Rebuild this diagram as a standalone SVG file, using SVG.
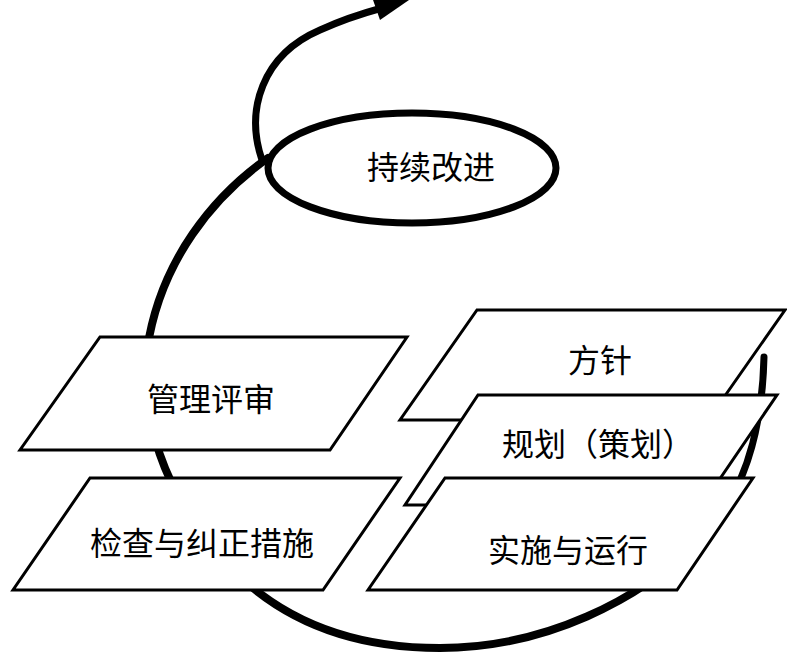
<svg xmlns="http://www.w3.org/2000/svg" width="787" height="652" viewBox="0 0 787 652">
<style>
.para{fill:#fff;stroke:#000;stroke-width:3;stroke-linejoin:miter}
.lbl{font-family:"Noto Sans CJK SC","Noto Sans",sans-serif;font-size:32px;fill:#000;text-anchor:middle;dominant-baseline:central}
.thick{fill:none;stroke:#000;stroke-linecap:round}
</style>
<rect width="787" height="652" fill="#fff"/>
<g id="connectors">
<path class="thick" stroke-width="8" d="M 268 158 C 215 195, 160 260, 147 350 C 140 420, 165 490, 215 550 C 260 605, 330 648, 440 648 C 545 648, 640 600, 700 540"/>
<path class="thick" stroke-width="7" stroke-linecap="butt" d="M 700 540 C 740 500, 762 440, 764 357"/>
<path class="thick" stroke-width="7" d="M 262 160 C 245 110, 262 55, 320 30 C 342 20, 360 14, 382 8"/>
<polygon points="409,0 372,-3 380,20" fill="#000"/>
</g>
<g id="node-improve">
<ellipse cx="412" cy="168" rx="144" ry="55" fill="none" stroke="#000" stroke-width="7"/>
<text class="lbl" x="431" y="165">持续改进</text>
</g>
<g id="node-review">
<polygon class="para" points="100,337 407,337 330,450 20,450"/>
<text class="lbl" x="211" y="397">管理评审</text>
</g>
<g id="node-check">
<polygon class="para" points="90,478 400,478 323,590 13,590"/>
<text class="lbl" x="202" y="541">检查与纠正措施</text>
</g>
<g id="node-policy">
<polygon class="para" points="477,310 785,310 708,420 400,420"/>
<text class="lbl" x="600" y="358">方针</text>
</g>
<g id="node-plan">
<polygon class="para" points="478,395 777,395 702,505 405,505"/>
<text class="lbl" x="598" y="442">规划（策划）</text>
</g>
<g id="node-do">
<polygon class="para" points="445,478 753,478 677,590 368,590"/>
<text class="lbl" x="568" y="548">实施与运行</text>
</g>
</svg>
